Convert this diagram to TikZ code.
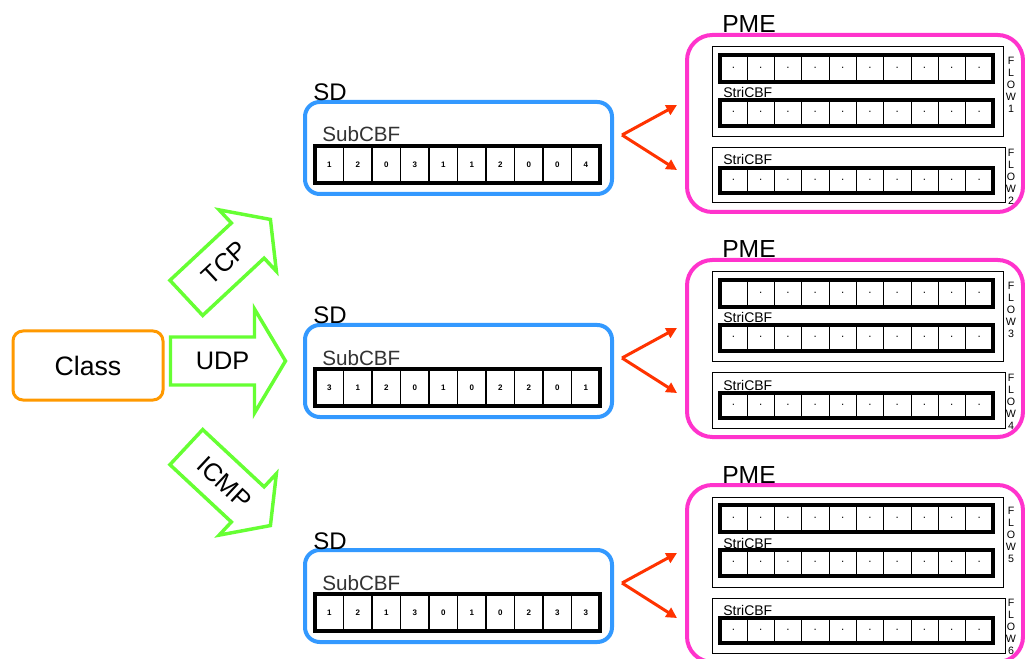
\documentclass[tikz,border=0pt]{standalone}
\usepackage{fontspec}
\setmainfont{Liberation Sans}
\usetikzlibrary{arrows.meta}
\definecolor{cOrange}{RGB}{255,153,0}
\definecolor{cBlue}{RGB}{51,153,255}
\definecolor{cMag}{RGB}{255,51,204}
\definecolor{cGreen}{RGB}{102,255,51}
\definecolor{cRed}{RGB}{255,51,0}
\tikzset{
 classbox/.style={draw=cOrange, line width=2.25pt, rounded corners=7.5pt, minimum width=112.5pt, minimum height=51.75pt, font=\fontsize{20}{24}\selectfont},
 sdbox/.style={draw=cBlue, line width=3pt, rounded corners=11pt, minimum width=230.25pt, minimum height=69pt},
 pmebox/.style={draw=cMag, line width=3pt, rounded corners=19pt, minimum width=252pt, minimum height=132.75pt},
 greenarr/.style={draw=cGreen, line width=2.6pt, line join=miter},
 arrtext/.style={font=\fontsize{19}{22}\selectfont, inner sep=0pt},
 sdlabel/.style={font=\fontsize{18}{21}\selectfont, inner sep=0pt, anchor=base west},
 pmelabel/.style={font=\fontsize{18.5}{21}\selectfont, inner sep=0pt, anchor=base west},
 sublabel/.style={font=\fontsize{15.5}{18}\selectfont, text=black!80, inner sep=0pt, anchor=base west},
 strilabel/.style={font=\fontsize{10.5}{12}\selectfont, inner sep=0pt, anchor=base west},
 flowlabel/.style={font=\fontsize{8}{9}\selectfont, inner sep=0pt, align=center, anchor=north},
 cellnum/.style={font=\bfseries\fontsize{6}{6}\selectfont, inner sep=0pt},
 celldiv/.style={line width=0.8pt},
 cbfborder/.style={line width=3pt},
 flowbox/.style={line width=0.75pt},
 redarr/.style={draw=cRed, line width=2.25pt, -{Triangle[length=8pt,width=8pt]}},
}
% a row of ten counters: #1 name, #2 x1, #3 y1, #4 x2, #5 y2, #6 values
\newcommand\cbfrow[6]{%
  \foreach \v [count=\k from 0] in {#6} {
    \node[cellnum] (#1-\k) at ({#2+(#4-#2)*(\k+0.5)/10},{(#3+#5)/2}) {\v};
  }
  \foreach \k in {1,...,9} {
    \draw[celldiv] ({#2+(#4-#2)*\k/10},#3) -- ({#2+(#4-#2)*\k/10},#5);
  }
  \draw[cbfborder] (#2,#3) rectangle (#4,#5);
}
% green block arrow: #1 cx, #2 cy, #3 angle, #4 head half width, #5 text, #6 name
\newcommand\blockarrow[6]{%
  \begin{scope}[shift={(#1,#2)}, rotate=#3]
    \draw[greenarr] (-57,-24) -- (27,-24) -- (27,-#4) -- (58,0) -- (27,#4) -- (27,24) -- (-57,24) -- cycle;
    \node[arrtext, rotate=#3] (#6) at (-5,0) {#5};
  \end{scope}
}
% SD block: #1 name, #2 top, #3 values
\newcommand\sdblock[3]{%
  \node[sdbox] (#1) at (458.5,{#2+46}) {};
  \node[sdlabel] (#1-lbl) at (313,{#2-1}) {SD};
  \node[sublabel] (#1-sub) at (322,{#2+40}) {SubCBF};
  \cbfrow{#1-row}{315}{#2+44}{600}{#2+81}{#3}
  \coordinate (#1-v) at (622,{#2+33});
  \coordinate (#1-a) at (677,{#2+3});
  \coordinate (#1-b) at (677,{#2+68});
  \draw[redarr] (#1-v) -- (#1-a);
  \draw[redarr] (#1-v) -- (#1-b);
}
% PME block: #1 name, #2 top, #3 flow A, #4 flow B, #5 first row values
\newcommand\pmeblock[5]{%
  \node[pmebox] (#1) at (855,{#2+88.5}) {};
  \node[pmelabel] (#1-lbl) at (722,{#2-2}) {PME};
  \draw[flowbox] (712,{#2+12}) rectangle (1003,{#2+102});
  \draw[flowbox] (712,{#2+113}) rectangle (1005,{#2+168});
  \cbfrow{#1-r1}{720}{#2+20}{993}{#2+47}{#5}
  \node[strilabel] (#1-s1) at (723,{#2+63}) {StriCBF};
  \cbfrow{#1-r2}{720}{#2+65}{993}{#2+91}{·,·,·,·,·,·,·,·,·,·}
  \node[strilabel] (#1-s2) at (723,{#2+130}) {StriCBF};
  \cbfrow{#1-r3}{720}{#2+133}{993}{#2+158}{·,·,·,·,·,·,·,·,·,·}
  \node[flowlabel] (#1-fa) at (1011,{#2+22}) {F\\L\\O\\W\\#3};
  \node[flowlabel] (#1-fb) at (1011,{#2+114}) {F\\L\\O\\W\\#4};
}
\begin{document}
\begin{tikzpicture}[x=0.75pt, y=-0.75pt]
\fill[white] (0,0) rectangle (1025,659);
\useasboundingbox (0,0) rectangle (1025,659);

\node[classbox] (class) at (88,365.5) {Class};

\blockarrow{228}{259}{43}{42}{TCP}{tcp}
\blockarrow{227.5}{361}{0}{52}{UDP}{udp}
\blockarrow{228}{486}{-43}{42}{ICMP}{icmp}

\sdblock{sd1}{102}{1,2,0,3,1,1,2,0,0,4}
\sdblock{sd2}{325}{3,1,2,0,1,0,2,2,0,1}
\sdblock{sd3}{550}{1,2,1,3,0,1,0,2,3,3}

\pmeblock{pme1}{35}{1}{2}{·,·,·,·,·,·,·,·,·,·}
\pmeblock{pme2}{260}{3}{4}{{},·,·,·,·,·,·,·,·,·}
\pmeblock{pme3}{485}{5}{6}{·,·,·,·,·,·,·,·,·,·}
\end{tikzpicture}
\end{document}
